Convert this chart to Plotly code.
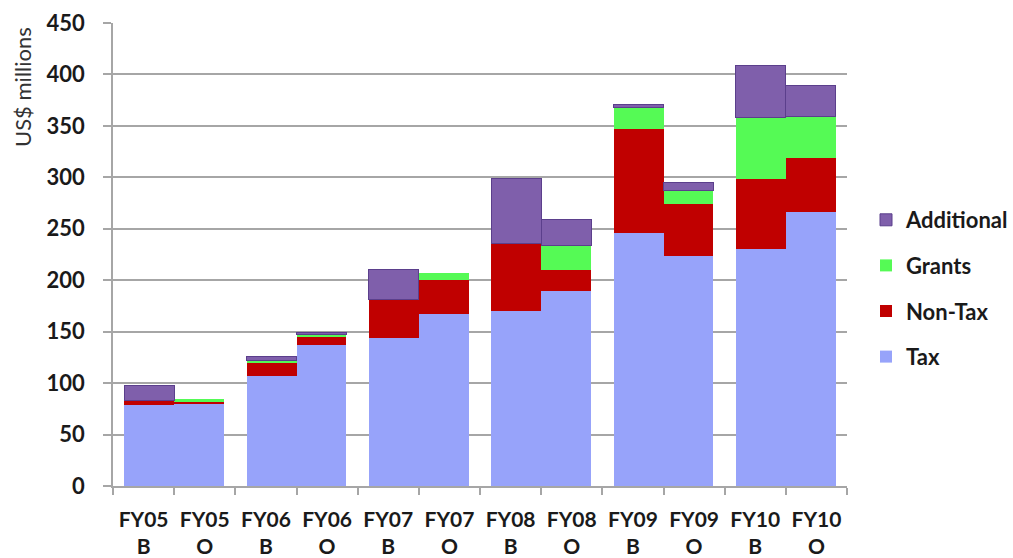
import plotly.graph_objects as go

# Revenue by fiscal year: B = budget, O = outturn (US$ millions)
years = ["FY05", "FY05", "FY06", "FY06", "FY07", "FY07",
         "FY08", "FY08", "FY09", "FY09", "FY10", "FY10"]
kinds = ["B", "O", "B", "O", "B", "O", "B", "O", "B", "O", "B", "O"]

tax = [79, 80, 107, 137, 144, 167, 170, 190, 246, 224, 230, 266]
non_tax = [4, 2, 13, 8, 37, 33, 66, 20, 101, 50, 68, 53]
grants = [0, 2.5, 2, 2.5, 0, 7, 0, 24, 21, 13, 60, 40]
additional = [15, 0, 4, 2, 29, 0, 63, 25, 3, 8, 51, 30]

y_ticks = [0, 50, 100, 150, 200, 250, 300, 350, 400, 450]

cats = [f"{y} {k}" for y, k in zip(years, kinds)]
tick_text = [f"{y}<br>{k}" for y, k in zip(years, kinds)]

# budget bars sit flush against the right edge of their slot, outturn bars against the left
bar_w = 0.815
offsets = [0.5 - bar_w if k == "B" else -0.5 for k in kinds]
widths = [bar_w] * len(cats)

FONT = "Lato"
INK = "#1a1a1a"
GRID = "#a6a6a6"

# (name, values, fill, outline, legend rank)
series = [
    ("Tax", tax, "#97a3fa", None, 4),
    ("Non-Tax", non_tax, "#c00000", None, 3),
    ("Grants", grants, "#55fa55", None, 2),
    ("Additional", additional, "#7f5fab", "#5b3f8c", 1),
]

fig = go.Figure()
for name, vals, color, edge, rank in series:
    line = dict(width=0)
    if edge:
        line = dict(color=edge, width=[1 if v > 0 else 0 for v in vals])
    fig.add_trace(go.Bar(
        name=name, x=cats, y=vals, width=widths, offset=offsets,
        marker=dict(color=color, line=line),
        legendgroup=name, legendrank=rank,
    ))

fig.update_layout(
    barmode="stack",
    width=1013, height=558,
    margin=dict(l=113, r=166, t=23, b=72),
    paper_bgcolor="white", plot_bgcolor="white",
    font=dict(family=FONT, color=INK),
    showlegend=True,
    legend=dict(
        xref="container", yref="container",
        x=866 / 1013, y=1 - 199 / 558, xanchor="left", yanchor="top",
        traceorder="grouped", tracegroupgap=14,
        itemwidth=30,
        font=dict(family=FONT, size=22, color=INK, weight="bold"),
        bgcolor="rgba(0,0,0,0)",
    ),
    xaxis=dict(
        type="category", categoryorder="array", categoryarray=cats,
        tickmode="array", tickvals=cats, ticktext=tick_text,
        tickson="boundaries", ticks="outside", ticklen=7, tickcolor=GRID,
        tickwidth=1.5,
        showline=True, linecolor=GRID, linewidth=1.5,
        showgrid=False,
        ticklabelstandoff=14,
        tickfont=dict(family=FONT, size=21, color=INK, weight="bold"),
        range=[-0.5, len(cats) - 0.5],
        automargin=False,
    ),
    yaxis=dict(
        range=[0, 450], tickmode="array", tickvals=y_ticks,
        ticks="outside", ticklen=8, tickcolor=GRID, tickwidth=1.5,
        showline=True, linecolor=GRID, linewidth=1.5,
        showgrid=True, gridcolor=GRID, gridwidth=1.5,
        zeroline=False,
        ticklabelstandoff=14,
        tickfont=dict(family=FONT, size=22, color=INK, weight="bold"),
        automargin=False,
    ),
    annotations=[dict(
        text="US$ millions", textangle=-90,
        xref="paper", yref="paper",
        x=(22 - 113) / 734, y=(486 - 25) / 463,
        xanchor="center", yanchor="top", showarrow=False,
        font=dict(family=FONT, size=22, color="#333333"),
    )],
)

fig.write_html("out.html")
